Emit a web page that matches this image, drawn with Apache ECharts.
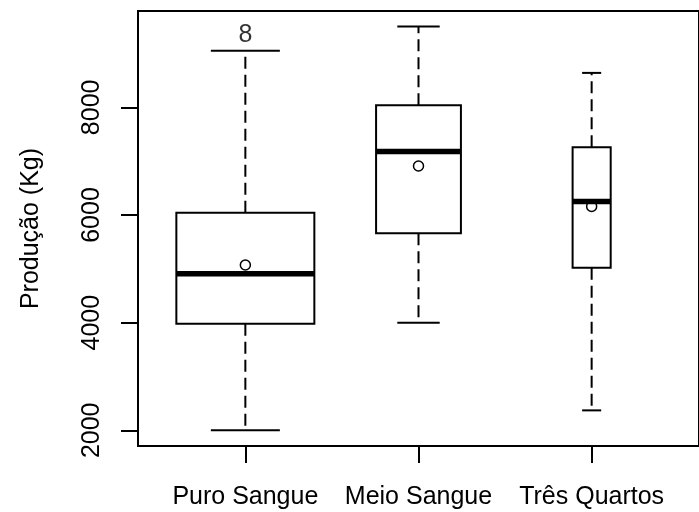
<!DOCTYPE html>
<html>
<head>
<meta charset="utf-8">
<script src="https://cdn.jsdelivr.net/npm/echarts@6/dist/echarts.min.js"></script>
<style>html,body{margin:0;padding:0;background:#fff}#c{width:699px;height:512px}</style>
</head>
<body>
<div id="c"></div>
<script>
// ---- data ----
const categories = ['Puro Sangue', 'Meio Sangue', 'Três Quartos'];
const lowerWhisker = [2000, 4000, 2370];
const q1 = [3980, 5660, 5020];
const median = [4910, 7180, 6250];
const q3 = [6040, 8040, 7260];
const upperWhisker = [9050, 9500, 8640];
const means = [5070, 6910, 6160];
const outlierGroup = [0];
const outlierValue = [9350];
const outlierLabel = ['8'];
const yTicks = [2000, 4000, 6000, 8000];

// ---- style / layout ----
const boxWidths = [0.797, 0.49, 0.22];   // in x-axis units (varwidth)
const FONT = 'Arial, "Liberation Sans", sans-serif';
const FS = 25;

const boxData = categories.map((c, i) => [i + 1, lowerWhisker[i], q1[i], median[i], q3[i], upperWhisker[i], means[i], i]);
const outData = outlierGroup.map((g, k) => [g + 1, outlierValue[k], outlierLabel[k]]);

function renderBox(params, api) {
  const x = api.value(0);
  const idx = api.value(7);
  const w = api.size([boxWidths[idx], 0])[0];
  const pLw = api.coord([x, api.value(1)]);
  const pQ1 = api.coord([x, api.value(2)]);
  const pMed = api.coord([x, api.value(3)]);
  const pQ3 = api.coord([x, api.value(4)]);
  const pUw = api.coord([x, api.value(5)]);
  const pMean = api.coord([x, api.value(6)]);
  const cx = pMed[0];
  const stroke = {stroke: '#000', lineWidth: 2, fill: null};
  const dash = {stroke: '#000', lineWidth: 2, lineDash: [12, 6], fill: null};
  return {
    type: 'group',
    children: [
      {type: 'line', shape: {x1: cx, y1: pQ1[1], x2: cx, y2: pLw[1]}, style: dash},
      {type: 'line', shape: {x1: cx, y1: pQ3[1], x2: cx, y2: pUw[1]}, style: dash},
      {type: 'line', shape: {x1: cx - w / 4, y1: pLw[1], x2: cx + w / 4, y2: pLw[1]}, style: stroke},
      {type: 'line', shape: {x1: cx - w / 4, y1: pUw[1], x2: cx + w / 4, y2: pUw[1]}, style: stroke},
      {type: 'rect', shape: {x: cx - w / 2, y: pQ3[1], width: w, height: pQ1[1] - pQ3[1]}, style: stroke},
      {type: 'line', shape: {x1: cx - w / 2, y1: pMed[1], x2: cx + w / 2, y2: pMed[1]}, style: {stroke: '#000', lineWidth: 5.5}},
      {type: 'circle', shape: {cx: pMean[0], cy: pMean[1], r: 5}, style: {stroke: '#000', lineWidth: 1.5, fill: null}}
    ]
  };
}

const chart = echarts.init(document.getElementById('c'), null, {renderer: 'canvas'});
chart.setOption({
  animation: false,
  backgroundColor: '#fff',
  grid: {left: 138, top: 11, bottom: 66, right: -13, show: true, borderColor: '#000', borderWidth: 2, backgroundColor: 'transparent'},
  xAxis: {
    type: 'value', min: 0.38, max: 3.62,
    axisLine: {show: false},
    splitLine: {show: false},
    axisTick: {show: true, length: 17, inside: false, lineStyle: {color: '#000', width: 2}, customValues: [1, 2, 3]},
    axisLabel: {
      show: true, margin: 39, color: '#000', fontSize: FS, fontFamily: FONT,
      customValues: [1, 2, 3],
      formatter: v => categories[Math.round(v) - 1] || ''
    }
  },
  yAxis: {
    type: 'value', min: 1708, max: 9790,
    name: 'Produção (Kg)', nameLocation: 'middle', nameRotate: 90, nameGap: 94,
    nameTextStyle: {color: '#000', fontSize: FS, fontFamily: FONT},
    axisLine: {show: false},
    splitLine: {show: false},
    axisTick: {show: true, length: 17, inside: false, lineStyle: {color: '#000', width: 2}, customValues: yTicks},
    axisLabel: {show: true, rotate: 90, margin: 33, color: '#000', fontSize: FS, fontFamily: FONT, customValues: yTicks, formatter: v => String(v)}
  },
  series: [
    {type: 'custom', renderItem: renderBox, data: boxData, clip: false, silent: true},
    {
      type: 'scatter', data: outData, symbolSize: 0, silent: true,
      label: {show: true, position: 'inside', formatter: p => p.data[2], color: '#000', fontSize: FS, fontFamily: FONT}
    }
  ]
});
</script>
</body>
</html>
